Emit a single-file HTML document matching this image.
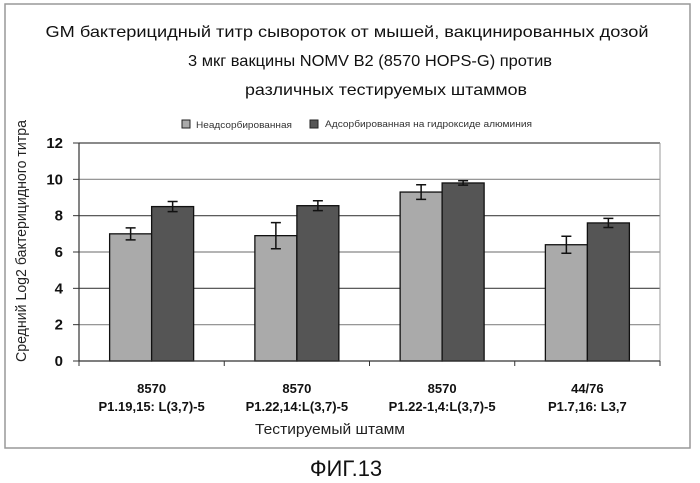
<!DOCTYPE html>
<html><head><meta charset="utf-8"><style>
html,body{margin:0;padding:0;background:#fff;}
svg{display:block;font-family:"Liberation Sans",sans-serif;}
</style></head><body>
<svg id="chart" width="700" height="483" viewBox="0 0 700 483">
<rect x="5" y="4" width="685" height="444" fill="#fff" stroke="#999" stroke-width="1.5"/>
<g font-size="16" fill="#111" text-anchor="middle">
<text x="347" y="37" textLength="603" lengthAdjust="spacingAndGlyphs">GM бактерицидный титр сывороток от мышей, вакцинированных дозой</text>
<text x="370" y="66" textLength="364" lengthAdjust="spacingAndGlyphs">3 мкг вакцины NOMV B2 (8570 HOPS-G) против</text>
<text x="386" y="95" textLength="282" lengthAdjust="spacingAndGlyphs">различных тестируемых штаммов</text>
</g>
<g font-size="9" fill="#333">
<rect x="182" y="120" width="8" height="8" fill="#aaa" stroke="#222"/>
<text x="196" y="128" textLength="96" lengthAdjust="spacingAndGlyphs">Неадсорбированная</text>
<rect x="310" y="120" width="8" height="8" fill="#555" stroke="#222"/>
<text x="325" y="127" textLength="207" lengthAdjust="spacingAndGlyphs">Адсорбированная на гидроксиде алюминия</text>
</g>
<g id="plot"></g>
<text x="0" y="0" transform="translate(26,241) rotate(-90)" text-anchor="middle" font-size="15" fill="#222" textLength="242" lengthAdjust="spacingAndGlyphs">Средний Log2 бактерицидного титра</text>
<text x="330" y="434" text-anchor="middle" font-size="15" fill="#222" textLength="150" lengthAdjust="spacingAndGlyphs">Тестируемый штамм</text>
<text x="346" y="476" text-anchor="middle" font-size="22" fill="#111">ФИГ.13</text>
</svg>
<script>
const categoriesTop = ["8570", "8570", "8570", "44/76"];
const categoriesBottom = ["P1.19,15: L(3,7)-5", "P1.22,14:L(3,7)-5", "P1.22-1,4:L(3,7)-5", "P1.7,16: L3,7"];
const unadsorbed = [7.0, 6.9, 9.3, 6.4];
const unadsorbedErr = [0.33, 0.72, 0.4, 0.47];
const adsorbed = [8.5, 8.55, 9.8, 7.6];
const adsorbedErr = [0.28, 0.27, 0.12, 0.25];
const yTicks = [0, 2, 4, 6, 8, 10, 12];

const NS = "http://www.w3.org/2000/svg";
const plot = document.getElementById("plot");
const X0 = 79, X1 = 660, Y0 = 361, Y1 = 143, YMAX = 12;
const y = v => Y0 - (v / YMAX) * (Y0 - Y1);
const gw = (X1 - X0) / categoriesTop.length;
const gc = i => X0 + gw * (i + 0.5);
const BW = 42;
function mk(tag, attrs) { const e = document.createElementNS(NS, tag); for (const k in attrs) e.setAttribute(k, attrs[k]); plot.appendChild(e); return e; }

yTicks.forEach(t => {
  if (t > 0) {
    const g = mk("line", {x1: X0, x2: X1, y1: y(t), y2: y(t), stroke: t % 4 === 0 ? "#444" : "#888", "stroke-width": 1.2});
    
    
  }
  const tk = mk("line", {x1: X0 - 6, x2: X0, y1: y(t), y2: y(t), stroke: "#333"});
  
  
  const lb = mk("text", {x: 63, y: y(t) + 5, "text-anchor": "end", "font-size": 15, "font-weight": "bold", fill: "#111"});
  lb.textContent = t;
  
  
});
const rb = mk("line", {x1: X1, x2: X1, y1: Y1, y2: Y0 + 5, stroke: "#999"});



function bar(i, val, err, off, fill, name) {
  const x = gc(i) + off;
  const r = mk("rect", {x: x, y: y(val), width: BW, height: Y0 - y(val), fill: fill, stroke: "#111", "stroke-width": 1.3});
  
  
  const cx = x + BW / 2, t = y(val + err), b = y(val - err);
  const e = mk("path", {d: `M${cx - 5},${t}H${cx + 5}M${cx},${t}V${b}M${cx - 5},${b}H${cx + 5}`, stroke: "#111", "stroke-width": 1.5, fill: "none"});
  
  
}
categoriesTop.forEach((c, i) => {
  bar(i, unadsorbed[i], unadsorbedErr[i], -BW, "#aaa", 'bar-unadsorbed-' + (i + 1));
  bar(i, adsorbed[i], adsorbedErr[i], 0, "#555", 'bar-adsorbed-' + (i + 1));
  const t1 = mk("text", {x: gc(i), y: 393, "text-anchor": "middle", "font-size": 13, "font-weight": "bold", fill: "#111"});
  t1.textContent = c;
  
  
  const t2 = mk("text", {x: gc(i), y: 411, "text-anchor": "middle", "font-size": 13, "font-weight": "bold", fill: "#111"});
  t2.textContent = categoriesBottom[i];
  
  
});
for (let i = 0; i <= categoriesTop.length; i++) {
  const xt = X0 + gw * i;
  const tk = mk("line", {x1: xt, x2: xt, y1: Y0, y2: Y0 + 5, stroke: "#333"});
  
  
}
const ya = mk("line", {x1: X0, x2: X0, y1: Y1, y2: Y0, stroke: "#333", "stroke-width": 1.2});


const xa = mk("line", {x1: X0, x2: X1, y1: Y0, y2: Y0, stroke: "#333", "stroke-width": 1.2});


</script>
</body></html>
